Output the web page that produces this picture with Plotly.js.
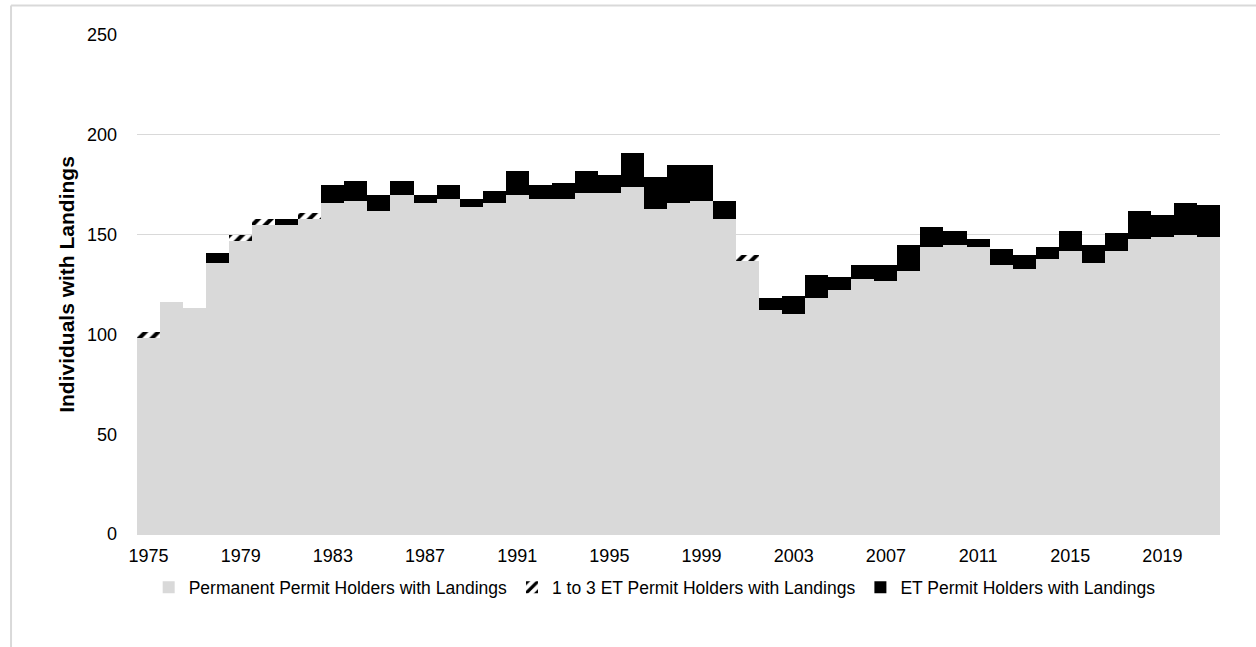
<!DOCTYPE html>
<html>
<head>
<meta charset="utf-8">
<script src="https://cdn.plot.ly/plotly-3.0.1.min.js"></script>
<style>html,body{margin:0;padding:0;background:#fff;}#chart{width:1256px;height:647px;}</style>
</head>
<body>
<div id="chart"></div>
<script>
const years = [1975,1976,1977,1978,1979,1980,1981,1982,1983,1984,1985,1986,1987,1988,1989,1990,1991,1992,1993,1994,1995,1996,1997,1998,1999,2000,2001,2002,2003,2004,2005,2006,2007,2008,2009,2010,2011,2012,2013,2014,2015,2016,2017,2018,2019,2020,2021];
const permanentHolders = [98,116,113,136,147,155,155,158,166,167,162,170,166,168,164,166,170,168,168,171,171,174,163,166,167,158,137,112,110,118,122,128,127,132,144,145,144,135,133,138,142,136,142,148,149,150,149];
const oneToThreeET = [3,0,0,0,3,3,0,3,0,0,0,0,0,0,0,0,0,0,0,0,0,0,0,0,0,0,3,0,0,0,0,0,0,0,0,0,0,0,0,0,0,0,0,0,0,0,0];
const etHolders = [0,0,0,5,0,0,3,0,9,10,8,7,4,7,4,6,12,7,8,11,9,17,16,19,18,9,0,6,9,12,7,7,8,13,10,7,4,8,7,6,10,9,9,14,11,16,16];
const xTicks = [1975,1979,1983,1987,1991,1995,1999,2003,2007,2011,2015,2019];
const yTicks = [0,50,100,150,200,250];
const seriesNames = ["Permanent Permit Holders with Landings","1 to 3 ET Permit Holders with Landings","ET Permit Holders with Landings"];

const FONT = "Liberation Sans, Arial, sans-serif";

const traces = [
  {type:"bar", x:years, y:permanentHolders, name:seriesNames[0],
   marker:{color:"#d9d9d9", line:{width:0}}},
  {type:"bar", x:years, y:oneToThreeET, name:seriesNames[1],
   marker:{color:"#ffffff", line:{width:0},
     pattern:{shape:"/", fgcolor:"#000000", bgcolor:"#ffffff", size:9, solidity:0.45}}},
  {type:"bar", x:years, y:etHolders, name:seriesNames[2],
   marker:{color:"#000000", line:{width:0}}}
];

const layout = {
  width:1256, height:647,
  margin:{l:137, r:35.5, t:34.5, b:112.5, pad:0},
  paper_bgcolor:"#ffffff", plot_bgcolor:"#ffffff",
  barmode:"stack", bargap:0,
  font:{family:FONT, size:18, color:"#000000"},
  showlegend:true,
  legend:{orientation:"h", x:0.478, xanchor:"center", y:-0.107, yanchor:"middle",
    font:{family:FONT, size:17.5, color:"#000"}, traceorder:"normal", itemwidth:30},
  xaxis:{range:[1974.5,2021.5], tickmode:"array", tickvals:xTicks, ticktext:xTicks.map(String),
    tickangle:0, showgrid:false, zeroline:false, showline:true, linecolor:"#d9d9d9", linewidth:1,
    ticks:"", ticklabelstandoff:5, tickfont:{family:FONT, size:18, color:"#000"}, fixedrange:true},
  yaxis:{range:[0,250], tickmode:"array", tickvals:yTicks, ticktext:yTicks.map(String),
    showgrid:true, gridcolor:"#d9d9d9", gridwidth:1.3, zeroline:false, showline:false,
    ticks:"", ticklabelstandoff:19, tickfont:{family:FONT, size:18, color:"#000"},
    title:{text:"<b>Individuals with Landings</b>", font:{family:FONT, size:21, color:"#000"}, standoff:6},
    fixedrange:true},
  shapes:[
    {type:"line", xref:"paper", yref:"paper", x0:-0.1163, x1:-0.1163, y0:-0.3, y1:1.059, line:{color:"#d9d9d9", width:2}},
    {type:"line", xref:"paper", yref:"paper", x0:-0.1163, x1:1.1, y0:1.059, y1:1.059, line:{color:"#d9d9d9", width:2}}
  ]
};

Plotly.newPlot("chart", traces, layout, {displayModeBar:false, staticPlot:true});
</script>
</body>
</html>
